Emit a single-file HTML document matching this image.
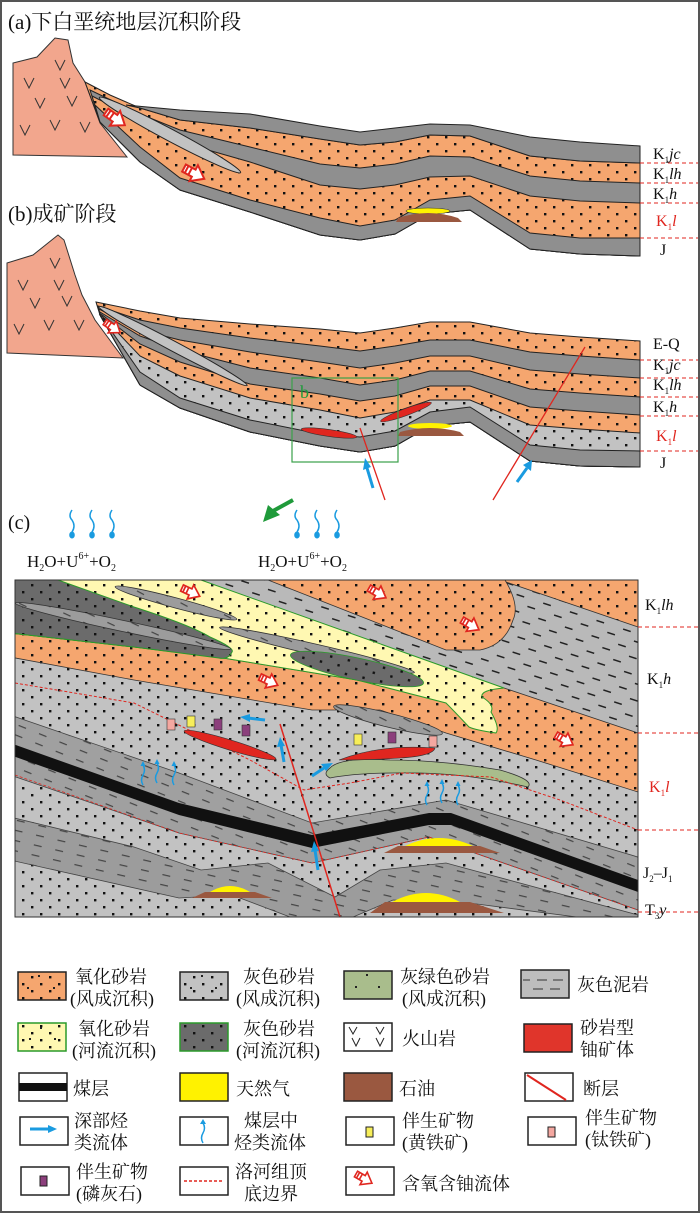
<!DOCTYPE html>
<html><head><meta charset="utf-8"><style>
html,body{margin:0;padding:0;background:#fff}
svg{display:block}
text{font-family:"Liberation Serif","Noto Serif CJK SC",serif;fill:#111}
</style></head><body>
<svg width="700" height="1213" viewBox="0 0 700 1213" xmlns="http://www.w3.org/2000/svg">
<defs>
<pattern id="pOr" width="18" height="14" patternUnits="userSpaceOnUse"><rect width="18" height="14" fill="#f5a66f"/><rect x="4" y="3" width="2.4" height="2.4" fill="#111"/><rect x="13" y="10" width="2.4" height="2.4" fill="#111"/></pattern>
<pattern id="pLg" width="18" height="14" patternUnits="userSpaceOnUse"><rect width="18" height="14" fill="#c2c2c2"/><rect x="4" y="3" width="2.4" height="2.4" fill="#111"/><rect x="13" y="10" width="2.4" height="2.4" fill="#111"/></pattern>
<pattern id="pY" width="18" height="14" patternUnits="userSpaceOnUse"><rect width="18" height="14" fill="#fff8b2"/><rect x="4" y="3" width="2.4" height="2.4" fill="#111"/><rect x="13" y="10" width="2.4" height="2.4" fill="#111"/></pattern>
<pattern id="pDg" width="18" height="14" patternUnits="userSpaceOnUse"><rect width="18" height="14" fill="#6b6b6b"/><rect x="4" y="3" width="2.4" height="2.4" fill="#111"/><rect x="13" y="10" width="2.4" height="2.4" fill="#111"/></pattern>
<pattern id="pGn" width="18" height="14" patternUnits="userSpaceOnUse"><rect width="18" height="14" fill="#a9bd8c"/></pattern>
<pattern id="pMud" width="28" height="16" patternUnits="userSpaceOnUse" patternTransform="rotate(18)"><rect width="28" height="16" fill="#b9b9b9"/><rect x="3" y="5" width="8" height="1.5" fill="#222"/><rect x="17" y="13" width="8" height="1.5" fill="#222"/></pattern>
<pattern id="pMud2" width="22" height="10" patternUnits="userSpaceOnUse" patternTransform="rotate(22)"><rect width="22" height="10" fill="#a0a0a0"/><rect x="3" y="5" width="8" height="1.2" fill="#444"/></pattern>
<pattern id="pMud3" width="22" height="10" patternUnits="userSpaceOnUse" patternTransform="rotate(13)"><rect width="22" height="10" fill="#9c9c9c"/><rect x="3" y="5" width="8" height="1.2" fill="#444"/></pattern>
<g id="arr"><polygon points="0,-4 11,-4 11,-9 23,0 11,9 11,4 0,4" fill="#fff" stroke="#e0261f" stroke-width="2"/><rect x="2" y="-4" width="2" height="8" fill="#e0261f"/><rect x="6" y="-4" width="2" height="8" fill="#e0261f"/></g>
<g id="drop"><path d="M0,0 q-4,6 0,10 q4,6 0,12" fill="none" stroke="#1a9be0" stroke-width="1.5"/><ellipse cx="0" cy="25" rx="2.8" ry="3.5" fill="#1a9be0"/></g>
<g id="wv"><path d="M0,20 q-3,-5 0,-10 q3,-5 0,-10" fill="none" stroke="#1a9be0" stroke-width="1.5"/><polygon points="-2.5,1 2.5,1 0,-4" fill="#1a9be0"/></g>
<clipPath id="cc"><rect x="15" y="580" width="623" height="337"/></clipPath>
</defs>
<rect x="1" y="1" width="698" height="1211" fill="#fff" stroke="#555" stroke-width="2"/>

<!-- Panel a -->
<text x="8" y="29" font-size="21">(a)下白垩统地层沉积阶段</text>
<polygon points="13,155 13,63 37,57 55,38 68,40 73,63 85,82 100,123 127,157" fill="#f2a68d" stroke="#333" stroke-width="1"/>
<path d="M24,78l5,10l5,-10M55,60l5,10l5,-10M60,78l5,10l5,-10M35,98l5,10l5,-10M67,96l5,10l5,-10M20,125l5,10l5,-10M50,120l5,10l5,-10M80,122l5,10l5,-10" fill="none" stroke="#333"/>
<g stroke="#222" stroke-width="1">
<polygon fill="url(#pOr)" points="85,82 110,95 140,108 180,120 250,128 320,139 360,145 395,142 430,135 470,136 530,156 580,161 640,163 640,256 580,254 530,249 470,210 430,214 395,234 360,240 320,235 250,212 180,190 140,162 100,122"/>
<polygon fill="#8f8f8f" points="126,105 180,110 250,114 320,126 360,132 395,128 430,124 470,125 530,137 580,142 640,146 640,163 580,161 530,156 470,136 430,135 395,142 360,145 320,139 250,128 180,120 140,108"/>
<polygon fill="#8f8f8f" points="90,90 140,114 180,130 250,147 320,164 360,168 395,164 430,156 470,157 530,176 580,181 640,183 640,256 580,254 530,249 470,210 430,214 395,234 360,240 320,235 250,212 180,190 140,162 100,122"/>
<polygon fill="url(#pOr)" points="92,96 140,120 180,142 250,162 320,185 360,189 395,185 430,177 470,176 530,196 580,201 640,203 640,256 580,254 530,249 470,210 430,214 395,234 360,240 320,235 250,212 180,190 140,162 100,122"/>
<ellipse cx="170" cy="135" rx="80" ry="6" transform="rotate(28 170 135)" fill="#c2c2c2"/>
<polygon fill="#8f8f8f" points="95,105 140,147 180,178 250,200 320,218 360,226 395,220 430,200 470,196 530,233 580,238 640,238 640,256 580,254 530,249 470,210 430,214 395,234 360,240 320,235 250,212 180,190 140,162 100,122"/>
</g>
<ellipse cx="428" cy="211" rx="22" ry="3" fill="#fff200" stroke="#333" stroke-width=".6"/>
<path d="M398,218 Q428,208 458,218 L462,222 L396,222Z" fill="#9a5840"/>
<use href="#arr" transform="translate(106,112) rotate(35)"/>
<use href="#arr" transform="translate(184,168) rotate(28)"/>
<g stroke="#e0261f" stroke-width="1" stroke-dasharray="4,3"><line x1="640" y1="163" x2="698" y2="163"/><line x1="640" y1="183" x2="698" y2="183"/><line x1="640" y1="203" x2="698" y2="203"/><line x1="640" y1="238" x2="698" y2="238"/></g>
<g font-size="16"><text x="653" y="159">K<tspan font-size="9" dy="4">1</tspan><tspan dy="-4" font-style="italic">jc</tspan></text>
<text x="653" y="179">K<tspan font-size="9" dy="4">1</tspan><tspan dy="-4" font-style="italic">lh</tspan></text>
<text x="653" y="199">K<tspan font-size="9" dy="4">1</tspan><tspan dy="-4" font-style="italic">h</tspan></text>
<text x="656" y="226" style="fill:#e0261f">K<tspan font-size="9" dy="4" style="fill:#e0261f">1</tspan><tspan dy="-4" font-style="italic" style="fill:#e0261f">l</tspan></text>
<text x="660" y="255">J</text></g>

<!-- Panel b -->
<text x="8" y="221" font-size="21">(b)成矿阶段</text>
<polygon points="7,353 7,263 33,255 58,235 64,240 75,275 82,295 95,320 123,358" fill="#f2a68d" stroke="#333" stroke-width="1"/>
<path d="M18,280l5,10l5,-10M50,258l5,10l5,-10M54,280l5,10l5,-10M30,298l5,10l5,-10M62,296l5,10l5,-10M14,324l5,10l5,-10M44,320l5,10l5,-10M74,320l5,10l5,-10" fill="none" stroke="#333"/>
<g stroke="#222" stroke-width="1">
<polygon fill="url(#pOr)" points="96,302 140,311 180,318 250,324 320,329 360,333 395,328 430,322 470,322 530,333 580,337 640,341 640,467 580,466 530,461 470,422 430,426 395,446 360,452 320,446 250,432 180,408 140,385 100,315"/>
<polygon fill="#8f8f8f" points="98,306 140,320 180,328 250,338 320,346 360,351 395,346 430,340 470,340 530,352 580,356 640,360 640,467 580,466 530,461 470,422 430,426 395,446 360,452 320,446 250,432 180,408 140,385 100,315"/>
<polygon fill="url(#pOr)" points="99,309 140,330 180,340 250,352 320,362 360,368 395,363 430,356 470,356 530,370 580,374 640,378 640,467 580,466 530,461 470,422 430,426 395,446 360,452 320,446 250,432 180,408 140,385 100,315"/>
<polygon fill="#8f8f8f" points="100,312 140,336 180,350 250,368 320,378 360,385 395,380 430,371 470,371 530,389 580,393 640,397 640,467 580,466 530,461 470,422 430,426 395,446 360,452 320,446 250,432 180,408 140,385 100,315"/>
<polygon fill="url(#pOr)" points="101,314 140,344 180,362 250,384 320,394 360,401 395,396 430,386 470,386 530,407 580,411 640,415 640,467 580,466 530,461 470,422 430,426 395,446 360,452 320,446 250,432 180,408 140,385 100,315"/>
<ellipse cx="173" cy="346" rx="84" ry="5" transform="rotate(28 173 346)" fill="#c2c2c2"/>
<polygon fill="url(#pLg)" points="102,316 140,356 180,376 250,398 320,410 360,418 395,412 430,400 470,400 530,425 580,429 640,433 640,467 580,466 530,461 470,422 430,426 395,446 360,452 320,446 250,432 180,408 140,385 100,315"/>
<polygon fill="#8f8f8f" points="103,319 140,372 180,398 250,420 320,434 360,437 395,431 430,412 470,407 530,445 580,450 640,451 640,467 580,466 530,461 470,422 430,426 395,446 360,452 320,446 250,432 180,408 140,385 100,315"/>
</g>
<ellipse cx="430" cy="426" rx="22" ry="3" fill="#fff200"/>
<path d="M400,432 Q430,424 460,432 L464,436 L398,436Z" fill="#9a5840"/>
<ellipse cx="329" cy="433" rx="28" ry="3.5" transform="rotate(8 329 433)" fill="#e0261f" stroke="#333" stroke-width=".6"/>
<ellipse cx="406" cy="412" rx="27" ry="3.5" transform="rotate(-20 406 412)" fill="#e0261f" stroke="#333" stroke-width=".6"/>
<use href="#arr" transform="translate(105,322) rotate(35) scale(.8)"/>
<rect x="292" y="378" width="106" height="84" fill="none" stroke="#3aa14a" stroke-width="1.2"/>
<text x="300" y="398" font-size="18" style="fill:#1f9a3a" font-family="Liberation Sans">b</text>
<line x1="360" y1="428" x2="385" y2="500" stroke="#e0261f" stroke-width="1.3"/>
<line x1="585" y1="347" x2="493" y2="500" stroke="#e0261f" stroke-width="1.3"/>
<path d="M373,488 L367,468" stroke="#1a9be0" stroke-width="3"/><polygon points="363,470 371,467 365,458" fill="#1a9be0"/>
<path d="M517,482 L527,468" stroke="#1a9be0" stroke-width="3"/><polygon points="523,465 531,471 532,460" fill="#1a9be0"/>
<path d="M293,500 L273,511" stroke="#1f9a3a" stroke-width="4"/><polygon points="263,522 268,505 280,515" fill="#1f9a3a"/>
<g stroke="#e0261f" stroke-width="1" stroke-dasharray="4,3"><line x1="640" y1="360" x2="698" y2="360"/><line x1="640" y1="378" x2="698" y2="378"/><line x1="640" y1="397" x2="698" y2="397"/><line x1="640" y1="416" x2="698" y2="416"/><line x1="640" y1="451" x2="698" y2="451"/></g>
<g font-size="16"><text x="653" y="349">E-Q</text>
<text x="653" y="370">K<tspan font-size="9" dy="4">1</tspan><tspan dy="-4" font-style="italic">jc</tspan></text>
<text x="653" y="390">K<tspan font-size="9" dy="4">1</tspan><tspan dy="-4" font-style="italic">lh</tspan></text>
<text x="653" y="412">K<tspan font-size="9" dy="4">1</tspan><tspan dy="-4" font-style="italic">h</tspan></text>
<text x="656" y="441" style="fill:#e0261f">K<tspan font-size="9" dy="4" style="fill:#e0261f">1</tspan><tspan dy="-4" font-style="italic" style="fill:#e0261f">l</tspan></text>
<text x="660" y="468">J</text></g>

<!-- Panel c header -->
<text x="8" y="529" font-size="20">(c)</text>
<use href="#drop" x="72" y="510"/><use href="#drop" x="92" y="510"/><use href="#drop" x="112" y="510"/>
<use href="#drop" x="297" y="510"/><use href="#drop" x="317" y="510"/><use href="#drop" x="337" y="510"/>
<g font-size="17"><text x="27" y="567">H<tspan font-size="10" dy="4">2</tspan><tspan dy="-4">O+U</tspan><tspan font-size="10" dy="-8">6+</tspan><tspan dy="8">+O</tspan><tspan font-size="10" dy="4">2</tspan></text>
<text x="258" y="567">H<tspan font-size="10" dy="4">2</tspan><tspan dy="-4">O+U</tspan><tspan font-size="10" dy="-8">6+</tspan><tspan dy="8">+O</tspan><tspan font-size="10" dy="4">2</tspan></text></g>

<!-- Panel c -->
<g clip-path="url(#cc)">
<rect x="15" y="580" width="623" height="337" fill="url(#pLg)"/>
<polygon points="201,580 638,580 638,733 504,688" fill="url(#pMud)"/>
<polygon points="500,580 638,580 638,627" fill="url(#pOr)" stroke="#333" stroke-width=".8"/>
<path d="M268,580 L505,580 Q520,605 513,620 Q505,645 480,650 L446,650 Z" fill="url(#pOr)" stroke="#333" stroke-width=".8"/>
<polygon points="10,633 134,647 223,658 357,680 504,688 638,733 638,792 536,760 446,733 380,710 312,710 134,680 10,657" fill="url(#pOr)" stroke="#333" stroke-width=".8"/>
<path d="M58,580 L201,580 L504,688 Q480,690 482,697 Q495,705 491,712 Q500,728 496,733 Q475,730 469,727 Q455,712 446,703 L357,680 L223,658 L134,647 L10,633 Z" fill="url(#pY)" stroke="#2a9a2a" stroke-width="1"/>
<path d="M10,580 L58,580 Q100,595 134,607 Q190,625 210,637 Q235,648 232,652 Q228,660 219,658 L134,647 L10,633 Z" fill="url(#pDg)" stroke="#2a9a2a" stroke-width="1"/>
<g stroke="#333" stroke-width=".8">
<ellipse cx="176" cy="603" rx="63" ry="5" transform="rotate(15 176 603)" fill="url(#pMud3)"/>
<ellipse cx="123" cy="626" rx="110" ry="5.5" transform="rotate(12 123 626)" fill="url(#pMud3)"/>
<ellipse cx="317" cy="650" rx="100" ry="5.5" transform="rotate(13 317 650)" fill="url(#pMud3)"/>
<ellipse cx="357" cy="669" rx="68" ry="11" transform="rotate(12 357 669)" fill="url(#pDg)" stroke="#2a9a2a"/>
<ellipse cx="388" cy="720" rx="56" ry="7" transform="rotate(14 388 720)" fill="url(#pMud3)"/>
<path d="M330,768 Q340,757 390,760 Q440,760 500,770 Q535,780 528,787 Q470,774 420,773 Q360,772 330,778 Q322,774 330,768Z" fill="#a9bd8c"/>
</g>
<polyline points="15,683 134,703 250,760 304,790 350,783 402,773 491,777 560,800 638,830" fill="none" stroke="#e0261f" stroke-width="1" stroke-dasharray="3,2"/>
<polygon points="10,715 179,773 312,823 446,800 638,857 638,910 429,837 312,863 179,833 10,775" fill="url(#pMud2)" stroke="#444" stroke-width=".8"/>
<polygon points="10,743 179,803 312,835 429,813 451,813 638,880 638,892 451,825 429,825 312,848 179,815 10,755" fill="#111"/>
<polyline points="15,775 179,833 312,863 429,837 638,910" fill="none" stroke="#e0261f" stroke-width=".8" stroke-dasharray="3,2"/>
<polygon points="10,817 134,847 201,870 268,863 335,897 380,870 446,863 638,915 638,925 469,903 393,900 339,923 290,917 232,895 179,898 10,860" fill="url(#pMud3)" stroke="#444" stroke-width=".8"/>
<path d="M405,846 Q439,830 473,846Z" fill="#fff200"/><polygon points="398,846 480,846 500,853 384,853" fill="#9a5840"/>
<path d="M210,892 Q230,880 250,892Z" fill="#fff200"/><polygon points="205,892 255,892 272,898 192,898" fill="#9a5840"/>
<path d="M392,902 Q426,884 460,902Z" fill="#fff200"/><polygon points="385,902 470,902 504,913 370,913" fill="#9a5840"/>
<ellipse cx="230" cy="745" rx="48" ry="5" transform="rotate(17 230 745)" fill="#e0261f" stroke="#333" stroke-width=".6"/>
<path d="M339,760 Q380,744 435,748 Q433,756 400,758 Q370,760 339,760Z" fill="#e0261f" stroke="#333" stroke-width=".6"/>
<line x1="280" y1="724" x2="344" y2="930" stroke="#e0261f" stroke-width="1.5"/>
<g stroke="#333" stroke-width=".6">
<rect x="167" y="719" width="8" height="11" fill="#f4a7a0"/><rect x="187" y="716" width="8" height="11" fill="#f7ee5a"/><rect x="214" y="719" width="8" height="11" fill="#8c3f7c"/><rect x="242" y="725" width="8" height="11" fill="#8c3f7c"/>
<rect x="354" y="734" width="8" height="11" fill="#f7ee5a"/><rect x="388" y="732" width="8" height="11" fill="#8c3f7c"/><rect x="429" y="736" width="8" height="11" fill="#f4a7a0"/></g>
<g fill="#1a9be0">
<path d="M265,720 L248,718" stroke="#1a9be0" stroke-width="3"/><polygon points="250,714 250,722 240,717"/>
<path d="M284,762 L281,745" stroke="#1a9be0" stroke-width="3"/><polygon points="277,747 285,746 280,737"/>
<path d="M312,776 L324,768" stroke="#1a9be0" stroke-width="3"/><polygon points="321,764 326,771 333,763"/>
<path d="M318,870 L315,850" stroke="#1a9be0" stroke-width="3"/><polygon points="311,852 319,851 314,841"/>
</g>
<use href="#wv" x="143" y="765"/><use href="#wv" x="157" y="763"/><use href="#wv" x="174" y="765"/>
<use href="#wv" x="427" y="785"/><use href="#wv" x="442" y="783"/><use href="#wv" x="458" y="785"/>
<use href="#arr" transform="translate(182,588) rotate(25) scale(.85)"/>
<use href="#arr" transform="translate(369,588) rotate(30) scale(.85)"/>
<use href="#arr" transform="translate(462,620) rotate(30) scale(.85)"/>
<use href="#arr" transform="translate(260,677) rotate(25) scale(.85)"/>
<use href="#arr" transform="translate(556,735) rotate(30) scale(.85)"/>
</g>
<rect x="15" y="580" width="623" height="337" fill="none" stroke="#333" stroke-width="1"/>
<g stroke="#e0261f" stroke-width="1" stroke-dasharray="4,3"><line x1="638" y1="627" x2="698" y2="627"/><line x1="638" y1="733" x2="698" y2="733"/><line x1="638" y1="830" x2="698" y2="830"/><line x1="638" y1="912" x2="698" y2="912"/></g>
<g font-size="16"><text x="645" y="610">K<tspan font-size="9" dy="4">1</tspan><tspan dy="-4" font-style="italic">lh</tspan></text>
<text x="647" y="684">K<tspan font-size="9" dy="4">1</tspan><tspan dy="-4" font-style="italic">h</tspan></text>
<text x="649" y="792" style="fill:#e0261f">K<tspan font-size="9" dy="4" style="fill:#e0261f">1</tspan><tspan dy="-4" font-style="italic" style="fill:#e0261f">l</tspan></text>
<text x="643" y="878">J<tspan font-size="9" dy="4">2</tspan><tspan dy="-4">–J</tspan><tspan font-size="9" dy="4">1</tspan></text>
<text x="645" y="915">T<tspan font-size="9" dy="4">3</tspan><tspan dy="-4" font-style="italic">y</tspan></text></g>

<!-- Legend -->
<g stroke="#222" stroke-width="1.5">
<rect x="18" y="972" width="48" height="28" fill="url(#pOr)"/>
<rect x="180" y="972" width="48" height="28" fill="url(#pLg)"/>
<rect x="344" y="971" width="48" height="28" fill="url(#pGn)"/>
<rect x="521" y="970" width="48" height="28" fill="#bdbdbd"/>
<rect x="18" y="1023" width="48" height="28" fill="url(#pY)" stroke="#2a9a2a"/>
<rect x="180" y="1023" width="48" height="28" fill="url(#pDg)" stroke="#2a9a2a"/>
<rect x="344" y="1023" width="48" height="28" fill="#fff"/>
<rect x="524" y="1024" width="48" height="28" fill="#e0352b"/>
<rect x="19" y="1073" width="48" height="28" fill="#fff"/>
<rect x="180" y="1073" width="48" height="28" fill="#fff200"/>
<rect x="344" y="1073" width="48" height="28" fill="#9a5840"/>
<rect x="525" y="1073" width="48" height="28" fill="#fff"/>
<rect x="20" y="1117" width="48" height="28" fill="#fff"/>
<rect x="180" y="1117" width="48" height="28" fill="#fff"/>
<rect x="346" y="1117" width="48" height="28" fill="#fff"/>
<rect x="528" y="1117" width="48" height="28" fill="#fff"/>
<rect x="21" y="1167" width="48" height="28" fill="#fff"/>
<rect x="180" y="1167" width="48" height="28" fill="#fff"/>
<rect x="346" y="1167" width="48" height="28" fill="#fff"/>
</g>
<g fill="#222"><rect x="38" y="975" width="2" height="2"/><rect x="27" y="987" width="2" height="2"/><rect x="53" y="987" width="2" height="2"/>
<rect x="201" y="975" width="2" height="2"/><rect x="190" y="987" width="2" height="2"/><rect x="215" y="987" width="2" height="2"/>
<rect x="366" y="974" width="2" height="2"/><rect x="355" y="986" width="2" height="2"/><rect x="378" y="986" width="2" height="2"/>
<rect x="40" y="1027" width="2" height="2"/><rect x="29" y="1038" width="2" height="2"/><rect x="54" y="1038" width="2" height="2"/></g>
<g stroke="#333" stroke-width="1"><line x1="523" y1="980" x2="530" y2="980"/><line x1="537" y1="980" x2="547" y2="980"/><line x1="553" y1="980" x2="563" y2="980"/><line x1="533" y1="989" x2="543" y2="989"/><line x1="550" y1="989" x2="560" y2="989"/></g>
<path d="M349,1027l4,7l4,-7M376,1027l4,7l4,-7M352,1038l4,8l4,-8M376,1038l4,8l4,-8" fill="none" stroke="#222"/>
<rect x="19" y="1083" width="48" height="8" fill="#111"/>
<line x1="527" y1="1075" x2="566" y2="1100" stroke="#e0261f" stroke-width="2"/>
<path d="M30,1129 L50,1129" stroke="#1a9be0" stroke-width="3"/><polygon points="48,1125 48,1133 57,1129" fill="#1a9be0"/>
<path d="M203,1143 q-3,-5 0,-10 q3,-5 0,-10" fill="none" stroke="#1a9be0" stroke-width="1.5"/><polygon points="200,1124 206,1124 203,1119" fill="#1a9be0"/>
<rect x="366" y="1127" width="7" height="10" fill="#f7ee5a" stroke="#222"/>
<rect x="548" y="1127" width="7" height="10" fill="#f4a7a0" stroke="#222"/>
<rect x="40" y="1176" width="7" height="10" fill="#8c3f7c" stroke="#222"/>
<line x1="184" y1="1181" x2="224" y2="1181" stroke="#e0261f" stroke-width="1.5" stroke-dasharray="3,2"/>
<use href="#arr" transform="translate(356,1174) rotate(30) scale(.8)"/>
<g font-size="18" font-family="'Noto Serif CJK SC',serif">
<text x="75" y="983">氧化砂岩</text><text x="70" y="1005">(风成沉积)</text>
<text x="243" y="983">灰色砂岩</text><text x="236" y="1005">(风成沉积)</text>
<text x="400" y="983">灰绿色砂岩</text><text x="402" y="1005">(风成沉积)</text>
<text x="577" y="991">灰色泥岩</text>
<text x="78" y="1035">氧化砂岩</text><text x="72" y="1057">(河流沉积)</text>
<text x="243" y="1035">灰色砂岩</text><text x="236" y="1057">(河流沉积)</text>
<text x="402" y="1045">火山岩</text>
<text x="580" y="1034">砂岩型</text><text x="580" y="1056">铀矿体</text>
<text x="73" y="1095">煤层</text><text x="236" y="1095">天然气</text><text x="399" y="1095">石油</text><text x="583" y="1095">断层</text>
<text x="74" y="1127">深部烃</text><text x="74" y="1149">类流体</text>
<text x="244" y="1127">煤层中</text><text x="234" y="1149">烃类流体</text>
<text x="402" y="1127">伴生矿物</text><text x="402" y="1149">(黄铁矿)</text>
<text x="585" y="1124">伴生矿物</text><text x="585" y="1146">(钛铁矿)</text>
<text x="76" y="1178">伴生矿物</text><text x="76" y="1200">(磷灰石)</text>
<text x="235" y="1178">洛河组顶</text><text x="244" y="1200">底边界</text>
<text x="402" y="1190">含氧含铀流体</text>
</g>
</svg>
</body></html>
